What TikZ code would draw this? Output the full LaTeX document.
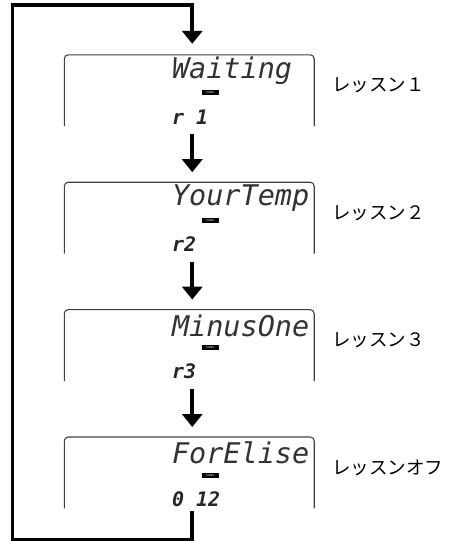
\documentclass[tikz,border=0pt]{standalone}
\usepackage{fontspec}
\newfontfamily\jpfont{Noto Sans CJK JP}
\newfontfamily\lcdfont{DejaVu Sans Mono}
\usetikzlibrary{arrows.meta,positioning}

\begin{document}
\begin{tikzpicture}[x=1pt,y=-1pt,node distance=56pt,
    panel/.style={minimum width=249.5pt,minimum height=71pt,inner sep=0pt},
    frame/.style={draw=black!75,line width=1.1pt,rounded corners=4pt},
    lcd/.style={anchor=west,inner sep=0pt,text=black!80,
                font=\lcdfont\itshape\fontsize{28.5}{28.5}\selectfont},
    digits/.style={anchor=west,inner sep=0pt,text=black!85,
                font=\lcdfont\bfseries\itshape\fontsize{20}{20}\selectfont},
    songtag/.style={fill=black,text=white,inner sep=0pt,minimum width=17pt,
                minimum height=5pt,font=\sffamily\fontsize{3}{3}\selectfont},
    lesson/.style={anchor=west,inner sep=0pt,font=\jpfont\fontsize{18.5}{18.5}\selectfont},
    flow/.style={line width=3.6pt,-{Triangle[width=20pt,length=13pt]}}]
    \useasboundingbox (0,0) rectangle (448,541);
    % the four display panels
    \node[panel] (box1) at (189.25,90.5) {};
    \node[panel,below=of box1] (box2) {};
    \node[panel,below=of box2] (box3) {};
    \node[panel,below=of box3] (box4) {};
    \foreach \b in {box1,box2,box3,box4}
      \draw[frame] (\b.south west) -- (\b.north west) -- (\b.north east) -- (\b.south east);
    % display contents
    \node[lcd] (name1) at ([xshift=107.5pt,yshift=-16pt]box1.north west) {Waiting};
    \node[lcd] (name2) at ([xshift=107.5pt,yshift=-16pt]box2.north west) {YourTemp};
    \node[lcd] (name3) at ([xshift=107.5pt,yshift=-16pt]box3.north west) {MinusOne};
    \node[lcd] (name4) at ([xshift=107.5pt,yshift=-16pt]box4.north west) {ForElise};
    \foreach \b in {box1,box2,box3,box4}
      \node[songtag] (tag-\b) at ([xshift=146pt,yshift=-38pt]\b.north west) {SONG};
    \node[digits] (num1) at ([xshift=107.5pt,yshift=-62pt]box1.north west) {r 1};
    \node[digits] (num2) at ([xshift=107.5pt,yshift=-62pt]box2.north west) {r2};
    \node[digits] (num3) at ([xshift=107.5pt,yshift=-62pt]box3.north west) {r3};
    \node[digits] (num4) at ([xshift=107.5pt,yshift=-62pt]box4.north west) {0 12};
    % lesson labels
    \node[lesson] (les1) at ([xshift=18pt,yshift=-31pt]box1.north east) {レッスン１};
    \node[lesson] (les2) at ([xshift=18pt,yshift=-31pt]box2.north east) {レッスン２};
    \node[lesson] (les3) at ([xshift=18pt,yshift=-31pt]box3.north east) {レッスン３};
    \node[lesson] (les4) at ([xshift=18pt,yshift=-31pt]box4.north east) {レッスンオフ};
    % arrows
    \foreach \a/\b in {box1/box2,box2/box3,box3/box4}
      \draw[flow] ([xshift=3pt,yshift=-8pt]\a.south) -- ([xshift=3pt,yshift=10pt]\b.north);
    \coordinate (loopcorner) at (12.5,5);
    \draw[flow] ([xshift=3pt,yshift=-3pt]box4.south) -- ++(0,28) -| (loopcorner)
      -| ([xshift=3pt,yshift=11pt]box1.north);
\end{tikzpicture}
\end{document}
